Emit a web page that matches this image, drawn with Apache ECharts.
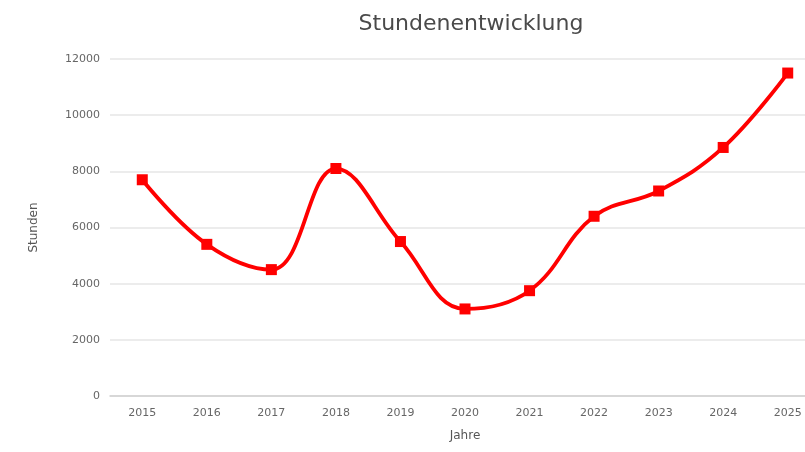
<!DOCTYPE html>
<html>
<head>
<meta charset="utf-8">
<script src="https://cdn.jsdelivr.net/npm/echarts@6/dist/echarts.min.js"></script>
<style>html,body{margin:0;padding:0;background:#fff;}#c{width:805px;height:452px;}</style>
</head>
<body>
<div id="c"></div>
<script>
const years = ['2015','2016','2017','2018','2019','2020','2021','2022','2023','2024','2025'];
const stunden = [7700, 5400, 4500, 8100, 5500, 3100, 3750, 6400, 7300, 8850, 11500];
const yTicks = [0, 2000, 4000, 6000, 8000, 10000, 12000];

const chart = echarts.init(document.getElementById('c'));
chart.setOption({
  backgroundColor: '#fff',
  animation: false,
  title: {
    text: 'Stundenentwicklung',
    left: 466, top: 8, textAlign: 'center',
    textStyle: { fontFamily: 'DejaVu Sans', fontWeight: 'normal', fontSize: 22, color: '#4a4a4a' }
  },
  grid: { left: 110, width: 710, top: 59, bottom: 56, outerBoundsMode: 'none', containLabel: false },
  xAxis: {
    type: 'category', data: years, boundaryGap: true,
    name: 'Jahre', nameLocation: 'middle', nameGap: 34,
    nameTextStyle: { fontFamily: 'DejaVu Sans', fontSize: 12, color: '#555' },
    axisLine: { lineStyle: { color: '#d0d0d0', width: 1.5 } },
    axisTick: { show: false },
    axisLabel: { fontFamily: 'DejaVu Sans', fontSize: 11, color: '#666', margin: 12 }
  },
  yAxis: {
    type: 'value', min: yTicks[0], max: yTicks[yTicks.length-1], interval: 2000,
    name: 'Stunden', nameLocation: 'middle', nameGap: 70,
    nameTextStyle: { fontFamily: 'DejaVu Sans', fontSize: 12, color: '#555' },
    axisLine: { show: false }, axisTick: { show: false },
    axisLabel: { fontFamily: 'DejaVu Sans', fontSize: 11, color: '#666', margin: 10, formatter: v => String(v) },
    splitLine: { lineStyle: { color: '#e6e6e6', width: 1.5 } }
  },
  series: [{
    type: 'line', data: stunden, smooth: 0.4,
    symbol: 'rect', symbolSize: 11,
    lineStyle: { color: '#ff0000', width: 3.8 },
    itemStyle: { color: '#ff0000' }
  }]
});
</script>
</body>
</html>
